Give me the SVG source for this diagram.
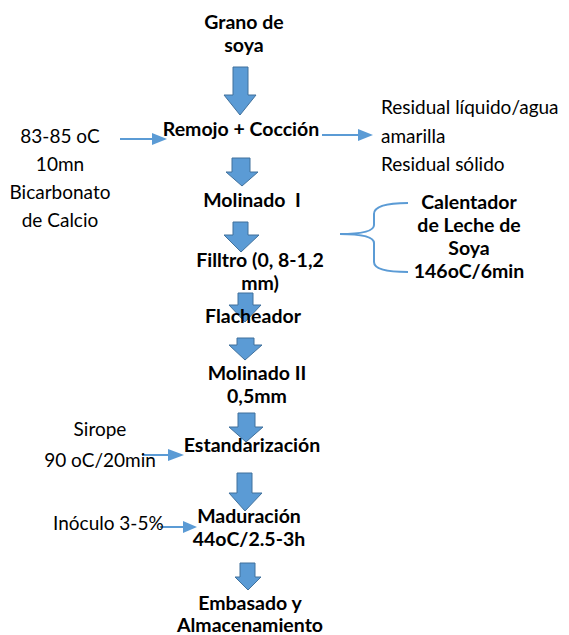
<svg xmlns="http://www.w3.org/2000/svg" width="569" height="635" viewBox="0 0 569 635">
<style>
.b{font-family:Lato,"Liberation Sans",sans-serif;font-weight:bold;font-size:19.5px;fill:#000;text-anchor:middle}
.r{font-family:Lato,"Liberation Sans",sans-serif;font-size:19px;fill:#000}
.m{text-anchor:middle}
.blk{fill:#5B9BD5;stroke:#41719C;stroke-width:1}
.thin{stroke:#5B9BD5;stroke-width:2;fill:none}
.head{fill:#5B9BD5}
</style>
<rect width="569" height="635" fill="#fff"/>
<g id="connectors">
<path class="blk" d="M233,67H248V95H256L240,115L224,95H233Z"/>
<path class="blk" d="M232,158H250V172H258L242,186L226,172H232Z"/>
<path class="blk" d="M233,222H248V235H259L241,252L224,235H233Z"/>
<path class="blk" d="M238,293H253V305H261L245,322L229,305H238Z"/>
<path class="blk" d="M237,338H254V345H262L245,360L229,345H237Z"/>
<path class="blk" d="M238,413H255V427H263L246,442L229,427H238Z"/>
<path class="blk" d="M237,473H252V493H262L245,511L229,493H237Z"/>
<path class="blk" d="M240,563H255V577H261L248,590L235,577H240Z"/>
<line class="thin" x1="120" y1="139" x2="154" y2="139"/>
<path class="head" d="M152,133L167,139L152,145Z"/>
<line class="thin" x1="322" y1="135" x2="360" y2="135"/>
<path class="head" d="M358,129L373,135L358,141Z"/>
<line class="thin" x1="142" y1="455" x2="170" y2="455"/>
<path class="head" d="M168,449L184,455L168,461Z"/>
<line class="thin" x1="160" y1="527" x2="185" y2="527"/>
<path class="head" d="M183,521L197,527L183,533Z"/>
<path class="thin" stroke-width="1.3" d="M408,203Q374,203 374,214V225Q374,234 340,234M374,243Q374,234 340,234M374,243V262Q374,272 408,272"/>
</g>
<g id="n_grano"><text class="b" x="244" y="29">Grano de</text><text class="b" x="244" y="52">soya</text></g>
<g id="n_remojo"><text class="b" x="241" y="136">Remojo + Cocción</text></g>
<g id="n_in1"><text class="r m" x="60" y="143">83-85 oC</text><text class="r m" x="60" y="171">10mn</text><text class="r m" x="60" y="199">Bicarbonato</text><text class="r m" x="60" y="227">de Calcio</text></g>
<g id="n_out1"><text class="r" x="381" y="114">Residual líquido/agua</text><text class="r" x="381" y="143">amarilla</text><text class="r" x="381" y="171">Residual sólido</text></g>
<g id="n_molinado1"><text class="b" x="252" y="207" xml:space="preserve">Molinado  I</text></g>
<g id="n_filtro"><text class="b" x="260" y="267">Filltro (0, 8-1,2</text><text class="b" x="260" y="290">mm)</text></g>
<g id="n_calentador"><text class="b" x="469" y="209">Calentador</text><text class="b" x="469" y="232">de Leche de</text><text class="b" x="469" y="255">Soya</text><text class="b" x="469" y="278">146oC/6min</text></g>
<g id="n_flacheador"><text class="b" x="253" y="323">Flacheador</text></g>
<g id="n_molinado2"><text class="b" x="257" y="380">Molinado II</text><text class="b" x="257" y="403">0,5mm</text></g>
<g id="n_sirope"><text class="r m" x="100" y="436">Sirope</text><text class="r m" x="100" y="467">90 oC/20min</text></g>
<g id="n_estandarizacion"><text class="b" x="252" y="452">Estandarización</text></g>
<g id="n_inoculo"><text class="r" x="53" y="530">Inóculo 3-5%</text></g>
<g id="n_maduracion"><text class="b" x="249" y="523">Maduración</text><text class="b" x="249" y="546">44oC/2.5-3h</text></g>
<g id="n_embasado"><text class="b" x="250" y="610">Embasado y</text><text class="b" x="250" y="632">Almacenamiento</text></g>
</svg>
